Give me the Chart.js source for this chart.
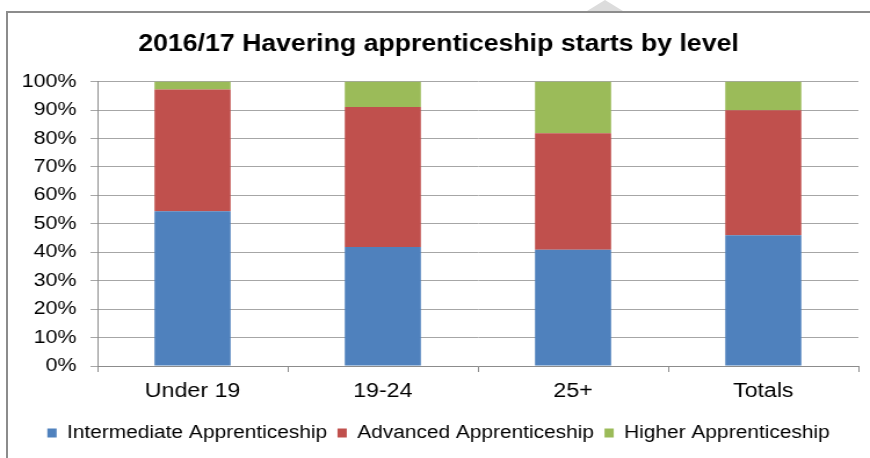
<!DOCTYPE html>
<html>
<head>
<meta charset="utf-8">
<script src="https://cdn.jsdelivr.net/npm/chart.js@4/dist/chart.umd.min.js"></script>
<style>
    html, body { margin: 0; padding: 0; background: #fff; overflow: hidden; }
    body { width: 870px; height: 458px; position: relative; }
    /* the reference is horizontally stretched, so draw narrow and stretch */
    #wrap {
        position: absolute; left: 0; top: 0;
        width: 750px; height: 458px;
        transform: scaleX(1.16); transform-origin: 0 0;
    }
    #frame {
        position: absolute; left: 6px; top: 11px;
        width: 900px; height: 500px;
        border-left: 2px solid #8c8c8c; border-top: 2px solid #8c8c8c;
        pointer-events: none;
    }
    #notch {
        position: absolute; left: 587px; top: 0;
        width: 0; height: 0;
        border-left: 18px solid transparent; border-right: 18px solid transparent;
        border-bottom: 11px solid #dcdcdc;
    }
</style>
</head>
<body>
<div id="wrap"><canvas id="chart"></canvas></div>
<div id="frame"></div>
<div id="notch"></div>
<script>
// ============ Data ============

const categories = ['Under 19', '19-24', '25+', 'Totals'];
const seriesNames = ['Intermediate Apprenticeship', 'Advanced Apprenticeship', 'Higher Apprenticeship'];
const intermediate = [54.4, 41.8, 40.9, 46.0];
const advanced = [42.8, 49.3, 40.9, 43.9];
const higher = [2.8, 8.9, 18.2, 10.1];
const yTicks = [0, 10, 20, 30, 40, 50, 60, 70, 80, 90, 100];

const COLORS = ['#4f81bd', '#c0504d', '#9bbb59'];
const FONT = '"Liberation Sans", Arial, sans-serif';

// ============ Chart ============

const ctx = document.getElementById('chart').getContext('2d');

new Chart(ctx, {
    type: 'bar',
    data: {
        labels: categories,
        datasets: [intermediate, advanced, higher].map((values, i) => ({
            label: seriesNames[i],
            data: values,
            backgroundColor: COLORS[i],
            borderWidth: 0,
            categoryPercentage: 1,
            barPercentage: 0.4
        }))
    },
    options: {
        responsive: true,
        maintainAspectRatio: false,
        animation: false,
        layout: { padding: { left: 16, right: 10, top: 0, bottom: 6 } },
        plugins: {
            title: {
                display: true,
                text: '2016/17 Havering apprenticeship starts by level',
                color: '#000',
                font: { family: FONT, size: 23, weight: 'bold' },
                padding: { top: 31, bottom: 23 }
            },
            legend: {
                position: 'bottom',
                maxHeight: 44,
                labels: {
                    color: '#000',
                    font: { family: FONT, size: 18 },
                    boxWidth: 8,
                    boxHeight: 9,
                    padding: 9
                }
            },
            tooltip: { enabled: false }
        },
        scales: {
            x: {
                stacked: true,
                afterFit: (scale) => { scale.height = 49; },
                grid: {
                    offset: true,
                    drawOnChartArea: false,
                    drawTicks: true,
                    tickLength: 6,
                    color: '#8c8c8c'
                },
                border: { color: '#8c8c8c' },
                ticks: {
                    color: '#000',
                    font: { family: FONT, size: 20 },
                    padding: 7
                }
            },
            y: {
                stacked: true,
                min: 0,
                max: 100,
                afterFit: (scale) => { scale.width = 68; },
                afterBuildTicks: (scale) => {
                    scale.ticks = yTicks.map(v => ({ value: v }));
                },
                grid: {
                    color: '#a6a6a6',
                    tickLength: 6
                },
                border: { color: '#8c8c8c' },
                ticks: {
                    color: '#000',
                    font: { family: FONT, size: 18.5 },
                    padding: 12,
                    callback: (val) => `${val}%`
                }
            }
        }
    }
});
</script>
</body>
</html>
